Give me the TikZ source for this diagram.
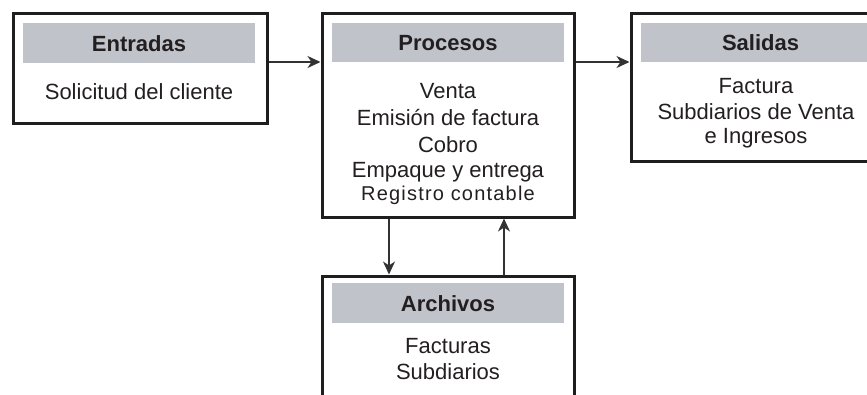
\documentclass[tikz,border=0pt]{standalone}
\usepackage{fontspec}
\setmainfont{Liberation Sans}
\usetikzlibrary{arrows.meta}
\definecolor{hdr}{RGB}{192,196,202}
\definecolor{ink}{RGB}{35,31,32}
\definecolor{edge}{RGB}{30,30,30}
\definecolor{arrc}{RGB}{50,50,50}
\tikzset{
  box/.style={draw=edge, line width=3pt, fill=white, inner sep=0pt},
  hdrbox/.style={fill=hdr, inner sep=0pt, text height=16pt, text depth=0pt,
    font=\fontsize{22}{26}\selectfont\bfseries, text=ink},
  body/.style={anchor=base, inner sep=0pt, font=\fontsize{22}{26}\selectfont, text=ink},
  arr/.style={draw=arrc, line width=1.6pt, -{Stealth[length=13pt,width=12pt,inset=4pt]}}
}
\begin{document}
\begin{tikzpicture}[x=1pt,y=-1pt]
\useasboundingbox (0,0) rectangle (867,394);
\clip (0,0) rectangle (867,394);
% boxes
\node[box, minimum width=254pt, minimum height=110pt] (ent) at (140,68) {};
\node[box, minimum width=252pt, minimum height=204pt] (proc) at (448,115) {};
\node[box, minimum width=260pt, minimum height=148pt] (sal) at (761,87) {};
\node[box, minimum width=252pt, minimum height=150pt] (arc) at (448,351) {};
% headers
\node[hdrbox, minimum width=232pt, minimum height=40pt] (enth) at (139,43) {Entradas};
\node[hdrbox, minimum width=232pt, minimum height=39pt] (proch) at (448,42.5) {Procesos};
\node[hdrbox, minimum width=240pt, minimum height=39pt, text width=240pt, align=left] (salh) at (761,42.5) {\hspace*{81pt}Salidas};
\node[hdrbox, minimum width=232pt, minimum height=40pt] (arch) at (448,303) {Archivos};
% body texts
\node[body] (t1) at (139,99) {Solicitud del cliente};
\node[body] (p1) at (448,98) {Venta};
\node[body] (p2) at (448,125) {Emisión de factura};
\node[body] (p3) at (448,152) {Cobro};
\node[body] (p4) at (448,177) {Empaque y entrega};
\node[body, font=\fontsize{20}{23}\selectfont\addfontfeatures{LetterSpace=6}] (p5) at (448,200) {Registro contable};
\node[body] (s1) at (756,93) {Factura};
\node[body] (s2) at (756,119) {Subdiarios de Venta};
\node[body] (s3) at (756,143) {e Ingresos};
\node[body] (a1) at (448,353) {Facturas};
\node[body] (a2) at (448,379) {Subdiarios};
% connectors
\coordinate (r1) at (0,62);
\coordinate (c1) at (389,0);
\coordinate (c2) at (504,0);
\draw[arr] (ent.east |- r1) -- (proc.west |- r1);
\draw[arr] (proc.east |- r1) -- (sal.west |- r1);
\draw[arr] (proc.south -| c1) -- (arc.north -| c1);
\draw[arr] (arc.north -| c2) -- (proc.south -| c2);
\end{tikzpicture}
\end{document}
